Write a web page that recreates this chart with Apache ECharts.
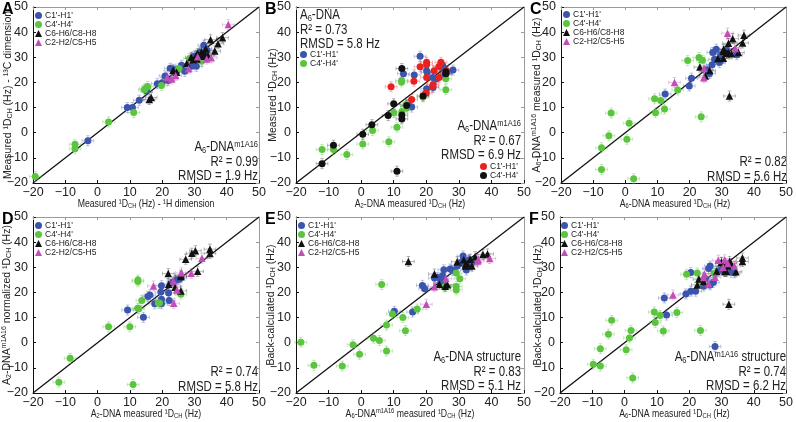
<!DOCTYPE html>
<html><head><meta charset="utf-8">
<script src="https://cdn.jsdelivr.net/npm/echarts@6/dist/echarts.min.js"></script>
<style>html,body{margin:0;padding:0;background:#fff}#c{width:796px;height:422px}</style>
</head><body><div id="c"></div>
<script>
// ---------- axis settings ----------
const AX_MIN = -20, AX_MAX = 50, AX_STEP = 10;
const ERR_X = 1.8, ERR_Y = 2; // Hz, typical measurement uncertainty

// ---------- data (x = measured / reference, y = compared value), Hz ----------
// Panel A
const A_C1 = [[-3,-3.2],[9.2,10],[10.8,10],[12.9,12.9],[15.2,16.6],[18.5,19.5],[20,19.9],[20.9,22.6],[22.5,25.6],[23.4,25.2],[26,26.8],[24.5,24.5],[21.9,20.8],[27,24.4],[29.1,26.4],[30.6,26.4],[32.9,34.8],[31.7,32.1],[33.9,32.8],[32.2,31],[30,30.4]];
const A_C4 = [[-19.3,-17.4],[-7,-4.6],[-7,-6.4],[3.4,4.3],[11.2,8],[14.5,17.1],[15.5,18.4],[19.8,18.8],[25.2,25.5],[32.2,28.4],[28.5,29.5],[14.8,17.6]];
const A_C6 = [[16,13.2],[16.6,14],[23.4,24.8],[24.5,24],[27.6,27.5],[29.6,29],[30.6,30.8],[32.2,32.1],[33.2,31.4],[34.2,30.8],[36.3,32.5],[35,37],[37.3,35.4],[38.7,37.8],[30.8,29.3],[33.5,33.4],[31,31.5],[29,30],[32.5,30.4]];
const A_C2 = [[40.5,43],[35.2,29.8],[33.8,29.3],[28.2,25.4],[23,21.4],[24.2,22.8],[21.5,22],[31,30.2]];
// Panel B
const B_C1 = [[18.1,30.4],[13,23.5],[16.3,23],[20.1,24.6],[20.3,23.9],[20.1,17.5],[22.1,18],[25.7,23.2],[28.2,24.9],[25,26.8],[14.5,10.9],[15.5,10.2],[23.2,21.5],[24.7,26.1],[22,22]];
const B_C4 = [[-12,-6.7],[-8.5,-6.7],[-4.4,-8.7],[0.5,-4.5],[3.5,0.9],[8.5,-3.6],[10,8],[11,2.2],[12.4,20.8],[12.4,20.2],[12.5,8.4],[14,9.8],[13.8,11.2],[19,14.2],[26,17.1],[26,21.5]];
const B_R1 = [[9.2,18.3],[16.2,20.5],[18.1,26.2],[20.1,28],[20.1,27],[20.1,22],[20,15.8],[15.5,13.2],[22.4,24.6],[22.1,19.2],[21.9,18.4],[23.9,26.3],[24.5,28],[23.9,22],[26.2,23.8],[26.2,24.6]];
const B_K4 = [[-12,-12.3],[-8.5,-5],[0.5,-0.6],[3.3,3.2],[8.3,6.8],[10,11.5],[12.5,25.5],[12.5,7],[12.5,5.5],[14,10.8],[11,-15.3],[19,14.6],[26,24.2],[26,23.5]];
// Panel C
const C_C1 = [[12.4,15.4],[19.9,18.6],[20.6,21.7],[27.2,31.9],[28.3,33.2],[27.8,29.2],[29.8,31],[29.3,27.9],[26.2,23.6],[25.5,25],[31.3,33],[34.7,31],[27,27]];
const C_C4 = [[-4.4,7.8],[-7.4,-6],[-7.4,-14.6],[-5.1,-1.2],[0.5,-2.6],[1.2,3.8],[2.6,-18.3],[9.1,13.5],[9.4,7.9],[11,12.8],[12.2,9.4],[16.3,17],[19.4,28.7],[22.9,29.9],[24,28.8],[23.6,6.3]];
const C_C6 = [[23.2,26.1],[24.9,22.6],[26.2,24.7],[28.8,29.5],[30.5,29.6],[30.6,33.2],[32.1,35.6],[33.4,37.4],[32,31.9],[33,31.4],[35.2,31.9],[36.5,35.7],[36.9,38.8],[32.4,14.6],[30.5,32.4],[31.5,31.5]];
const C_C2 = [[31.8,39.6],[15.3,20],[24.5,25.6],[24.4,21.9],[34.2,33.5]];
// Panel D
const D_C1 = [[9.3,13],[14.2,10.1],[15.6,18.4],[16.2,19],[17.7,15.5],[19.6,20.2],[19.8,22.7],[19.8,17.3],[19.8,15.5],[22,19.8],[22.2,16.8],[23.3,24.1],[24.3,24.8],[25.2,25.2],[25.8,25.8]];
const D_C4 = [[-12,-15.7],[-8.5,-6.2],[3.4,6.3],[10,6.3],[11,-16.6],[12.4,13.7],[12.5,24.3],[12.5,24.9],[13.7,16.8],[18.8,15.8],[19.2,15.8],[25.8,19.3],[12.8,13.5]];
const D_C6 = [[21.9,27.5],[22,23.3],[24,22.1],[25.8,20.6],[25.8,26.3],[25.8,26.9],[27.3,33.2],[29.2,35.6],[30.3,36.6],[31,28.4],[34.8,37.2],[34.8,35.5]];
const D_C2 = [[17.3,22.6],[23.6,15.7],[24.6,21],[29,27.6],[32.3,33.6],[26,27.8],[23.5,24.5]];
// Panel E
const E_C1 = [[10.2,12.5],[15.8,12.2],[18.8,22.8],[19.5,21.5],[22.5,25.7],[23.5,25.9],[25,26.6],[25.4,29],[27.3,29.3],[28,28.8],[29.5,30.5],[31,32.3],[31.3,34.5],[32.3,28.9],[33,32.9],[33.5,31.2],[34,31.8],[24.5,23.9]];
const E_C4 = [[-18.5,0.2],[-14.5,-9],[-5.8,-9.3],[-2.5,-0.8],[-0.5,-4.6],[3.8,1.8],[5.6,0.9],[6.3,23.2],[7.8,7],[7.8,-3.3],[9.6,11.4],[12.8,10],[13.6,4.8],[17.2,13.4],[25.5,22.2],[29.2,22.4],[29.2,21],[29.2,27.7],[30.3,25.4],[26,22.5]];
const E_C6 = [[14.5,32.3],[22.5,27.3],[24,23.3],[25.8,22.5],[26.5,23.1],[29.5,32.2],[31.5,33],[32,31],[32.5,31.4],[33.5,33.2],[34,30.5],[35,34.2],[37.4,35.1],[38.8,35.3],[32,30.5]];
const E_C2 = [[20,15.3],[22.5,22.3],[26,25.5],[35.8,32.5],[39.5,33.5],[36,33]];
// Panel F
const F_C1 = [[12.3,17.8],[13,11],[19,19.4],[20.5,27.9],[20.5,20.5],[24.5,22.5],[25,25.5],[26,29.5],[26.5,30.5],[27.5,24],[26.5,23],[28,-1.5],[29,28.5],[30,29],[31,28.5],[33,28],[34,27.8],[22,20.5]];
const F_C4 = [[-9.7,-8.6],[-7.5,-9.3],[-7.5,-2.4],[-5,3.4],[-4,8.9],[0.5,-2.8],[1.5,1.9],[2,4.9],[2.5,-14],[9.2,12.2],[9.5,8],[11,10.8],[12,4.7],[16.2,12],[19.2,27.2],[22.5,27.7],[23.5,4.9],[27.8,27.5],[23.5,24]];
const F_C6 = [[22.5,23],[23,25.3],[24.5,24.3],[28.5,28.3],[30,31.8],[31,28.3],[31.5,28.3],[32,30.5],[32.5,32.3],[33,31.5],[34.5,28.2],[36.5,33.7],[36.5,32.3],[32.3,15.3],[30,32]];
const F_C2 = [[15,19],[24.5,25.9],[24.7,27.3],[26,23.5],[28,26],[29,32.8],[31,33],[32,31.5],[34,30.5],[30.5,30]];

// ---------- styles ----------
const FONT = 'Liberation Sans, Arial, Helvetica, sans-serif';
const TXT = '#222';
const SQUEEZE_AX = 0.83, SQUEEZE_ST = 0.79; // horizontal text compression of the original figure
const TYPES = {
  c1: {label:"C1'-H1'", color:'#3b55ad', symbol:'circle', size:7, err:'rgba(59,85,173,0.32)'},
  c4: {label:"C4'-H4'", color:'#5cc540', symbol:'circle', size:7, err:'rgba(92,197,64,0.35)'},
  c6: {label:'C6-H6/C8-H8', color:'#111111', symbol:'triangle', size:7.5, err:'rgba(0,0,0,0.28)'},
  c2: {label:'C2-H2/C5-H5', color:'#c24db8', symbol:'triangle', size:7.5, err:'rgba(194,77,184,0.32)'},
  r1: {label:"C1'-H1'", color:'#e8221e', symbol:'circle', size:7, err:'rgba(232,34,30,0.3)'},
  k4: {label:"C4'-H4'", color:'#111111', symbol:'circle', size:7, err:'rgba(0,0,0,0.28)'}
};
const RICH_S = {
  sub:{fontSize:7, verticalAlign:'bottom', lineHeight:7, fontFamily:FONT, color:TXT, fill:TXT},
  sup:{fontSize:7, verticalAlign:'top', lineHeight:7, fontFamily:FONT, color:TXT, fill:TXT}
};
const RICH_L = {
  sub:{fontSize:9.5, verticalAlign:'bottom', lineHeight:10, fontFamily:FONT, fill:TXT, color:TXT},
  sup:{fontSize:9.5, verticalAlign:'top', lineHeight:10, fontFamily:FONT, fill:TXT, color:TXT}
};

const PANELS = [
  {id:'A', left:33, top:7, w:226, h:176, yGap:25,
   xName:"Measured ¹D{sub|CH} (Hz) - ¹H dimension", yName:"Measured ¹D{sub|CH} (Hz) - ¹³C dimension",
   sets:[['c1',A_C1],['c4',A_C4],['c6',A_C6],['c2',A_C2]],
   legends:[{types:['c1','c4','c6','c2'], dx:2, dy:4}],
   texts:[{align:'right', dx:-1, dy:140, lines:["A{sub|6}-DNA{sup|m1A16}","R² = 0.99","RMSD = 1.9 Hz"]}]},
  {id:'B', left:296, top:7, w:228, h:176, yGap:23,
   xName:"A{sub|2}-DNA measured ¹D{sub|CH} (Hz)", yName:"Measured ¹D{sub|CH} (Hz)",
   sets:[['c1',B_C1],['c4',B_C4],['r1',B_R1],['k4',B_K4]],
   legends:[{types:['c1','c4'], dx:4, dy:43},{types:['r1','k4'], dx:184, dy:155}],
   texts:[{align:'left', dx:4, dy:8, lines:["A{sub|6}-DNA","R² = 0.73","RMSD = 5.8 Hz"]},
          {align:'right', dx:-3, dy:119, lines:["A{sub|6}-DNA{sup|m1A16}","R² = 0.67","RMSD = 6.9 Hz"]}]},
  {id:'C', left:561, top:7, w:228, h:176, yGap:24,
   xName:"A{sub|6}-DNA measured ¹D{sub|CH} (Hz)", yName:"A{sub|6}-DNA{sup|m1A16} measured ¹D{sub|CH} (Hz)",
   sets:[['c1',C_C1],['c4',C_C4],['c6',C_C6],['c2',C_C2]],
   legends:[{types:['c1','c4','c6','c2'], dx:2, dy:3}],
   texts:[{align:'right', dx:-2, dy:155, lines:["R² = 0.82","RMSD = 5.6 Hz"]}]},
  {id:'D', left:33, top:217, w:226, h:176, yGap:26,
   xName:"A{sub|2}-DNA measured ¹D{sub|CH} (Hz)", yName:"A{sub|2}-DNA{sup|m1A16} normalized ¹D{sub|CH} (Hz)",
   sets:[['c1',D_C1],['c4',D_C4],['c6',D_C6],['c2',D_C2]],
   legends:[{types:['c1','c4','c6','c2'], dx:2, dy:4}],
   texts:[{align:'right', dx:-1, dy:155, lines:["R² = 0.74","RMSD = 5.8 Hz"]}]},
  {id:'E', left:296, top:217, w:228, h:176, yGap:25,
   xName:"A{sub|6}-DNA{sup|m1A16} measured ¹D{sub|CH} (Hz)", yName:"Back-calculated ¹D{sub|CH} (Hz)",
   sets:[['c1',E_C1],['c4',E_C4],['c6',E_C6],['c2',E_C2]],
   legends:[{types:['c1','c4','c6','c2'], dx:2, dy:4}],
   texts:[{align:'right', dx:-3, dy:140, lines:["A{sub|6}-DNA structure","R² = 0.83","RMSD = 5.1 Hz"]}]},
  {id:'F', left:560, top:217, w:229, h:176, yGap:22,
   xName:"A{sub|6}-DNA measured ¹D{sub|CH} (Hz)", yName:"Back-calculated ¹D{sub|CH} (Hz)",
   sets:[['c1',F_C1],['c4',F_C4],['c6',F_C6],['c2',F_C2]],
   legends:[{types:['c1','c4','c6','c2'], dx:1, dy:4}],
   texts:[{align:'right', dx:-3, dy:140, lines:["A{sub|6}-DNA{sup|m1A16} structure","R² = 0.74","RMSD = 6.2 Hz"]}]}
];

const grids=[], xAxes=[], yAxes=[], series=[], legends=[], graphics=[];
const minusFmt = v => String(v).replace('-', '\u2212');
const axisBase = {
  min:AX_MIN, max:AX_MAX, interval:AX_STEP, type:'value',
  splitLine:{show:false}
};
const mainAxis = Object.assign({}, axisBase, {
  axisLine:{show:true, onZero:false, lineStyle:{color:'#111', width:1}},
  axisTick:{show:true, inside:true, length:3, lineStyle:{color:'#111'}},
  axisLabel:{fontSize:12.5, color:TXT, fontFamily:FONT, formatter:minusFmt}
});
const mirrorAxis = Object.assign({}, axisBase, {
  axisLine:{show:true, onZero:false, lineStyle:{color:'#9a9a9a', width:1}},
  axisTick:{show:true, inside:true, length:3, lineStyle:{color:'#9a9a9a'}},
  axisLabel:{show:false}
});

PANELS.forEach((p, i) => {
  grids.push({left:p.left, top:p.top, width:p.w, height:p.h, show:false});
  xAxes.push(Object.assign({}, mainAxis, {gridIndex:i, position:'bottom',
    axisLabel:Object.assign({}, mainAxis.axisLabel, {margin:3})}));
  yAxes.push(Object.assign({}, mainAxis, {gridIndex:i, position:'left',
    axisLabel:Object.assign({}, mainAxis.axisLabel, {margin:5})}));
  xAxes.push(Object.assign({}, mirrorAxis, {gridIndex:i, position:'top'}));
  yAxes.push(Object.assign({}, mirrorAxis, {gridIndex:i, position:'right'}));
  const xi = 2*i, yi = 2*i;
  // axis titles (x title horizontally compressed like the original figure)
  graphics.push({type:'text', x:p.left + p.w/2, y:p.top + p.h + 21, scaleX:SQUEEZE_AX, silent:true,
    style:{text:p.xName, rich:RICH_S, fontSize:10.5, fontFamily:FONT, fill:TXT, align:'center', verticalAlign:'middle', lineHeight:12}});
  graphics.push({type:'text', x:p.left - p.yGap, y:p.top + p.h/2, rotation:Math.PI/2, silent:true,
    style:{text:p.yName, rich:RICH_S, fontSize:10.5, fontFamily:FONT, fill:TXT, align:'center', verticalAlign:'middle', lineHeight:12}});
  // identity line
  series.push({type:'line', xAxisIndex:xi, yAxisIndex:yi, data:[[AX_MIN,AX_MIN],[AX_MAX,AX_MAX]],
    showSymbol:false, silent:true, lineStyle:{color:'#111', width:1.3}, z:1, animation:false});
  p.sets.forEach(([t, data]) => {
    const T = TYPES[t];
    series.push({type:'custom', xAxisIndex:xi, yAxisIndex:yi, data:data, z:2, silent:true, animation:false,
      renderItem:(params, api) => {
        const x = api.value(0), y = api.value(1);
        const l = api.coord([x-ERR_X, y]), r = api.coord([x+ERR_X, y]);
        const tp = api.coord([x, y+ERR_Y]), bt = api.coord([x, y-ERR_Y]);
        const cap = 1.8, st = {stroke:T.err, lineWidth:1};
        return {type:'group', children:[
          {type:'line', shape:{x1:l[0],y1:l[1],x2:r[0],y2:r[1]}, style:st},
          {type:'line', shape:{x1:l[0],y1:l[1]-cap,x2:l[0],y2:l[1]+cap}, style:st},
          {type:'line', shape:{x1:r[0],y1:r[1]-cap,x2:r[0],y2:r[1]+cap}, style:st},
          {type:'line', shape:{x1:tp[0],y1:tp[1],x2:bt[0],y2:bt[1]}, style:st},
          {type:'line', shape:{x1:tp[0]-cap,y1:tp[1],x2:tp[0]+cap,y2:tp[1]}, style:st},
          {type:'line', shape:{x1:bt[0]-cap,y1:bt[1],x2:bt[0]+cap,y2:bt[1]}, style:st}
        ]};
      }});
    series.push({type:'scatter', name:p.id+':'+t, xAxisIndex:xi, yAxisIndex:yi, data:data,
      symbol:T.symbol, symbolSize:T.size, itemStyle:{color:T.color, opacity:1}, z:3, animation:false});
  });
  p.legends.forEach(L => {
    legends.push({left:p.left+L.dx, top:p.top+L.dy, orient:'vertical', padding:0,
      itemWidth:7, itemHeight:7, itemGap:0, selectedMode:false,
      data:L.types.map(t => p.id+':'+t),
      formatter:(name) => TYPES[name.split(':')[1]].label,
      textStyle:{fontSize:8.5, color:TXT, fontFamily:FONT, lineHeight:9, padding:[0,0,0,-2]}});
  });
  p.texts.forEach(tx => {
    const x0 = tx.align === 'right' ? p.left + p.w + tx.dx : p.left + tx.dx;
    tx.lines.forEach((s, k) => {
      graphics.push({type:'text', x:x0, y:p.top + tx.dy + k*14.5, scaleX:SQUEEZE_ST, silent:true,
        style:{text:s, rich:RICH_L, fontSize:14.5, fontFamily:FONT, fill:TXT, align:tx.align, verticalAlign:'middle', lineHeight:16}});
    });
  });
  graphics.push({type:'text', x:p.left-31, y:p.top+3, silent:true,
    style:{text:p.id, fontSize:16, fontWeight:'bold', fontFamily:FONT, fill:'#000', align:'left', verticalAlign:'middle'}});
});

const chart = echarts.init(document.getElementById('c'));
chart.setOption({animation:false, backgroundColor:'#fff', grid:grids, xAxis:xAxes, yAxis:yAxes,
  series:series, legend:legends, graphic:graphics});
</script></body></html>
